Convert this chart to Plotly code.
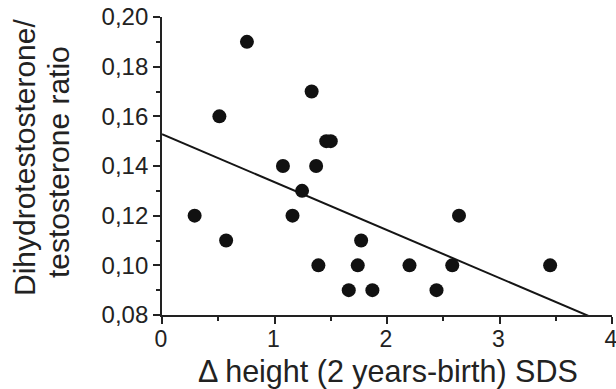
import numpy as np
import plotly.graph_objects as go

delta_height_sds = [0.29, 0.51, 0.57, 0.755, 1.075, 1.16, 1.245, 1.33, 1.37, 1.39,
                    1.46, 1.50, 1.66, 1.74, 1.77, 1.87, 2.20, 2.44, 2.58, 2.64, 3.45]
dht_t_ratio = [0.12, 0.16, 0.11, 0.19, 0.14, 0.12, 0.13, 0.17, 0.14, 0.10,
               0.15, 0.15, 0.09, 0.10, 0.11, 0.09, 0.10, 0.09, 0.10, 0.12, 0.10]
fit_intercept = 0.1528
fit_slope = -0.0193
x_ticks = [0, 1, 2, 3, 4]
y_ticks = [0.08, 0.10, 0.12, 0.14, 0.16, 0.18, 0.20]
y_title_lines = ["Dihydrotestosterone/", "testosterone ratio"]
x_title = "Δ height (2 years-birth) SDS"

line_x = np.array([0.0, 4.0])
line_y = fit_intercept + fit_slope * line_x

W, H = 616, 389
L, R, T, B = 162, 4, 17, 74
plot_w = W - L - R
plot_h = H - T - B

fig = go.Figure()
fig.add_trace(go.Scatter(x=line_x, y=line_y, mode="lines",
                         line=dict(color="#151515", width=2), showlegend=False))
fig.add_trace(go.Scatter(x=delta_height_sds, y=dht_t_ratio, mode="markers",
                         marker=dict(color="#111111", size=14), showlegend=False,
                         cliponaxis=False))

font = "Liberation Sans, Arial, sans-serif"
ink = "#222222"

for text, cx, cy in [(y_title_lines[0], 24, 158), (y_title_lines[1], 58, 162)]:
    fig.add_annotation(text=text, textangle=-90, showarrow=False,
                       xref="paper", yref="paper",
                       x=(cx - L) / plot_w, y=1 - (cy - T) / plot_h,
                       xanchor="center", yanchor="middle",
                       font=dict(size=30, family=font, color=ink))

fig.add_annotation(text=x_title, showarrow=False, xref="paper", yref="paper",
                   x=(388 - L) / plot_w, y=-(371 - T - plot_h) / plot_h,
                   xanchor="center", yanchor="middle",
                   font=dict(size=30.5, family=font, color=ink))

fig.update_layout(
    width=W, height=H,
    margin=dict(l=L, r=R, t=T, b=B, autoexpand=False),
    paper_bgcolor="white", plot_bgcolor="white",
    separators=",.",
    font=dict(family=font, color=ink, size=24),
    xaxis=dict(range=[0, 4], tickvals=x_ticks, showgrid=False, zeroline=False,
               showline=True, linecolor=ink, linewidth=1.8,
               ticks="outside", ticklen=7, tickwidth=1.6, tickcolor=ink,
               minor=dict(ticks="outside", ticklen=4, tickwidth=1.6, tickcolor=ink, dtick=0.5),
               tickfont=dict(size=23), ticklabeloverflow="allow", ticklabelstandoff=-5,
               ticklabelshift=-1),
    yaxis=dict(range=[0.08, 0.20], tickvals=y_ticks, tickformat=".2f", showgrid=False,
               zeroline=False, showline=True, linecolor=ink, linewidth=1.8,
               ticks="outside", ticklen=7, tickwidth=1.6, tickcolor=ink,
               minor=dict(ticks="outside", ticklen=4, tickwidth=1.6, tickcolor=ink, dtick=0.01),
               tickfont=dict(size=24), ticklabeloverflow="allow"),
)
fig.write_html("out.html")
